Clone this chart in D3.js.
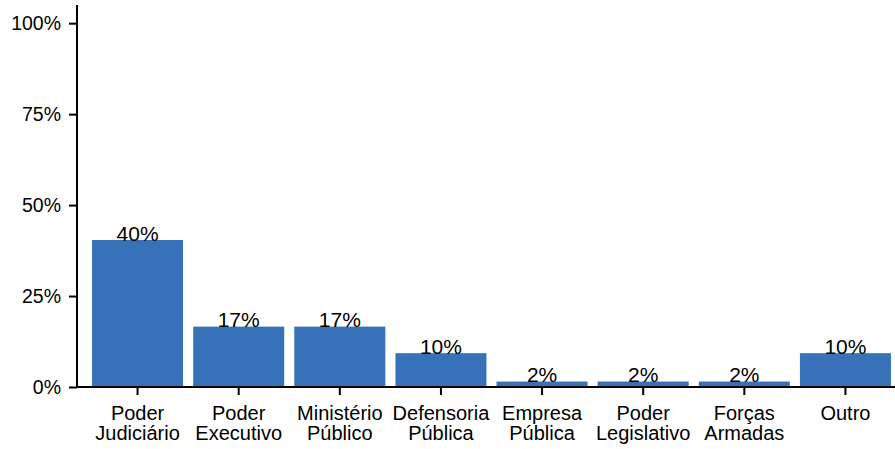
<!DOCTYPE html>
<html>
<head>
<meta charset="utf-8">
<script src="https://cdn.jsdelivr.net/npm/d3@7"></script>
<style>
  body { margin: 0; background: #fff; }
  text { font-family: 'Liberation Sans', Arial, sans-serif; fill: #000; }
</style>
</head>
<body>
<div id="chart"></div>
<script>
// categories, two lines each
const categories = [
  ['Poder', 'Judiciário'],
  ['Poder', 'Executivo'],
  ['Ministério', 'Público'],
  ['Defensoria', 'Pública'],
  ['Empresa', 'Pública'],
  ['Poder', 'Legislativo'],
  ['Forças', 'Armadas'],
  ['Outro']
];
// share of answers, percent (bar heights)
const shares = [40.4, 16.6, 16.6, 9.3, 1.5, 1.5, 1.5, 9.3];
// labels printed above the bars
const shareLabels = ['40%', '17%', '17%', '10%', '2%', '2%', '2%', '10%'];
const yTicks = [0, 25, 50, 75, 100];

const width = 895;
const height = 449;
const margin = {top: 5, right: 0, bottom: 62, left: 77};

const svg = d3.select('#chart').append('svg')
  .attr('width', width)
  .attr('height', height);

const x = d3.scaleBand()
  .domain(d3.range(categories.length))
  .range([87, 896])
  .paddingInner(0.1)
  .paddingOuter(0.05);

const y = d3.scaleLinear()
  .domain([0, 105])
  .range([height - margin.bottom, margin.top]);

// bars
svg.selectAll('rect.bar')
  .data(shares)
  .enter().append('rect')
  .attr('class', 'bar')
  .attr('x', (d, i) => x(i))
  .attr('y', d => y(d))
  .attr('width', x.bandwidth())
  .attr('height', d => y(0) - y(d))
  .attr('fill', '#3771b8');

// value labels
svg.selectAll('text.val')
  .data(shares)
  .enter().append('text')
  .attr('class', 'val')
  .attr('x', (d, i) => x(i) + x.bandwidth() / 2)
  .attr('y', d => y(d) + 0.5)
  .attr('text-anchor', 'middle')
  .style('font-size', '21px')
  .text((d, i) => shareLabels[i]);

// Y axis
const yAxis = d3.axisLeft(y)
  .tickValues(yTicks)
  .tickFormat(d => d + '%')
  .tickSize(8)
  .tickPadding(8);

const yg = svg.append('g')
  .attr('transform', 'translate(' + margin.left + ',0)')
  .call(yAxis);
yg.select('.domain')
  .attr('d', 'M0,' + y(105) + 'V' + y(0));

// X axis
const xAxis = d3.axisBottom(x)
  .tickSize(8)
  .tickFormat('');

const xg = svg.append('g')
  .attr('transform', 'translate(0,' + y(0) + ')')
  .call(xAxis);
xg.select('.domain')
  .attr('d', 'M' + margin.left + ',0H' + width);

[yg, xg].forEach(g => {
  g.selectAll('.domain, .tick line')
    .attr('stroke', '#000')
    .attr('stroke-width', 2);
  g.selectAll('.tick text')
    .style('font-size', '19.5px')
    .attr('fill', '#000');
});

// category labels
const catLabels = svg.selectAll('text.cat')
  .data(categories)
  .enter().append('text')
  .attr('class', 'cat')
  .attr('text-anchor', 'middle')
  .style('font-size', '20px')
  .attr('transform', (d, i) =>
    'translate(' + (x(i) + x.bandwidth() / 2) + ',' + (y(0) + 33) + ')');

catLabels.selectAll('tspan')
  .data(d => d)
  .enter().append('tspan')
  .attr('x', 0)
  .attr('dy', (d, j) => j === 0 ? 0 : 20)
  .text(d => d);
</script>
</body>
</html>
